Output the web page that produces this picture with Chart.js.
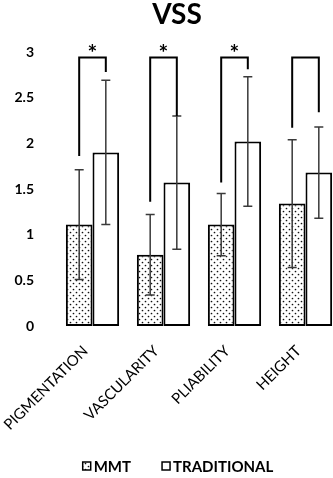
<!DOCTYPE html>
<html>
<head>
<meta charset="utf-8">
<script src="https://cdn.jsdelivr.net/npm/chart.js@4/dist/chart.umd.min.js"></script>
<style>
  html, body { margin: 0; padding: 0; background: #fff; overflow: hidden; }
  #wrap { width: 341px; height: 478px; }
</style>
</head>
<body>
<div id="wrap"><canvas id="vssChart" width="341" height="478"></canvas></div>
<script>
// data
var categories = ['PIGMENTATION', 'VASCULARITY', 'PLIABILITY', 'HEIGHT'];
var mmtValues = [1.11, 0.78, 1.11, 1.34];
var mmtSD = [0.60, 0.44, 0.34, 0.70];
var tradValues = [1.90, 1.57, 2.02, 1.68];
var tradSD = [0.79, 0.73, 0.71, 0.50];
var yTicks = [0, 0.5, 1, 1.5, 2, 2.5, 3];

// significance brackets (in y units)
var bracketTop = [2.94, 2.94, 2.94, 2.94];
var bracketLeftEnd = [1.86, 1.36, 1.57, 2.17];
var bracketRightEnd = [2.78, 2.30, 2.81, 2.34];
var bracketMark = ['*', '*', '*', ''];

var FONT = 'Lato, "Open Sans", sans-serif';

function dotPattern() {
    var c = document.createElement('canvas');
    c.width = 6; c.height = 6;
    var g = c.getContext('2d');
    g.fillStyle = '#fff';
    g.fillRect(0, 0, 6, 6);
    g.fillStyle = '#111';
    g.beginPath(); g.arc(1.5, 1.5, 0.85, 0, Math.PI * 2); g.fill();
    g.beginPath(); g.arc(4.5, 4.5, 0.85, 0, Math.PI * 2); g.fill();
    return g.createPattern(c, 'repeat');
}

var ctx = document.getElementById('vssChart').getContext('2d');
var dots = dotPattern();

var extras = {
    id: 'extras',
    afterDatasetsDraw: function (chart) {
        var c = chart.ctx;
        var y = chart.scales.y;
        var sds = [mmtSD, tradSD];
        c.save();
        // error bars
        c.strokeStyle = '#3a3a3a';
        c.lineWidth = 1.5;
        chart.data.datasets.forEach(function (ds, di) {
            var meta = chart.getDatasetMeta(di);
            meta.data.forEach(function (bar, i) {
                var v = ds.data[i], sd = sds[di][i];
                var top = y.getPixelForValue(v + sd);
                var bot = y.getPixelForValue(v - sd);
                c.beginPath();
                c.moveTo(bar.x, top); c.lineTo(bar.x, bot);
                c.moveTo(bar.x - 4.5, top); c.lineTo(bar.x + 4.5, top);
                c.moveTo(bar.x - 4.5, bot); c.lineTo(bar.x + 4.5, bot);
                c.stroke();
            });
        });

        // brackets
        var m0 = chart.getDatasetMeta(0), m1 = chart.getDatasetMeta(1);
        c.strokeStyle = '#000';
        c.lineWidth = 2;
        c.fillStyle = '#000';
        c.font = 'bold 23px ' + FONT;
        c.textAlign = 'center';
        c.textBaseline = 'middle';
        for (var i = 0; i < categories.length; i++) {
            var xl = m0.data[i].x, xr = m1.data[i].x;
            var yt = y.getPixelForValue(bracketTop[i]);
            c.beginPath();
            c.moveTo(xl, y.getPixelForValue(bracketLeftEnd[i]));
            c.lineTo(xl, yt);
            c.lineTo(xr, yt);
            c.lineTo(xr, y.getPixelForValue(bracketRightEnd[i]));
            c.stroke();
            if (bracketMark[i]) {
                c.fillText(bracketMark[i], (xl + xr) / 2, yt - 4);
            }
        }
        c.restore();
    },
    afterDraw: function (chart) {
        var c = chart.ctx;
        c.save();
        // title
        c.fillStyle = '#000';
        c.font = 'bold 28px ' + FONT;
        c.textAlign = 'center';
        c.textBaseline = 'middle';
        c.fillText('VSS', 177, 15);

        // legend
        c.font = 'bold 15px ' + FONT;
        c.textBaseline = 'middle';
        c.textAlign = 'left';
        var box = 8, gapText = 3, gapItem = 31, cy = 466;
        var ds = chart.data.datasets;
        var total = 0;
        ds.forEach(function (d, i) {
            total += box + gapText + c.measureText(d.label).width + (i < ds.length - 1 ? gapItem : 0);
        });
        var x = 178 - total / 2;
        ds.forEach(function (d) {
            c.fillStyle = d.backgroundColor;
            c.fillRect(x, cy - box / 2, box, box);
            c.strokeStyle = '#000';
            c.lineWidth = 1.5;
            c.strokeRect(x, cy - box / 2, box, box);
            c.fillStyle = '#000';
            c.fillText(d.label, x + box + gapText, cy + 1);
            x += box + gapText + c.measureText(d.label).width + gapItem;
        });
        c.restore();
    }
};

new Chart(ctx, {
    type: 'bar',
    data: {
        labels: categories,
        datasets: [{
            label: 'MMT',
            data: mmtValues,
            backgroundColor: dots,
            borderColor: '#000',
            borderWidth: 2,
            borderSkipped: false
        }, {
            label: 'TRADITIONAL',
            data: tradValues,
            backgroundColor: '#fff',
            borderColor: '#000',
            borderWidth: 2,
            borderSkipped: false
        }]
    },
    options: {
        responsive: false,
        animation: false,
        layout: { padding: { left: 0, right: 0, top: 52, bottom: 41 } },
        datasets: { bar: { categoryPercentage: 0.75, barPercentage: 1.0 } },
        scales: {
            x: {
                grid: { display: false },
                border: { display: false },
                afterFit: function (axis) {
                    axis.height = 111;
                    axis.paddingLeft = 0;
                    axis.paddingRight = 0;
                    axis.paddingTop = 0;
                    axis.paddingBottom = 0;
                },
                ticks: {
                    color: '#000',
                    minRotation: 45,
                    maxRotation: 45,
                    padding: 8,
                    labelOffset: -7,
                    font: { family: FONT, size: 15 }
                }
            },
            y: {
                min: 0,
                max: 3,
                afterBuildTicks: function (axis) {
                    axis.ticks = yTicks.map(function (v) { return { value: v }; });
                },
                afterFit: function (axis) {
                    axis.width = 57;
                    axis.paddingTop = 0;
                    axis.paddingBottom = 0;
                },
                grid: { display: false },
                border: { display: false },
                ticks: {
                    color: '#000',
                    padding: 15,
                    font: { family: FONT, size: 14, weight: 'bold' },
                    callback: function (v) { return String(v); }
                }
            }
        },
        plugins: {
            title: { display: false },
            legend: { display: false },
            tooltip: { enabled: false }
        }
    },
    plugins: [extras]
});
</script>
</body>
</html>
